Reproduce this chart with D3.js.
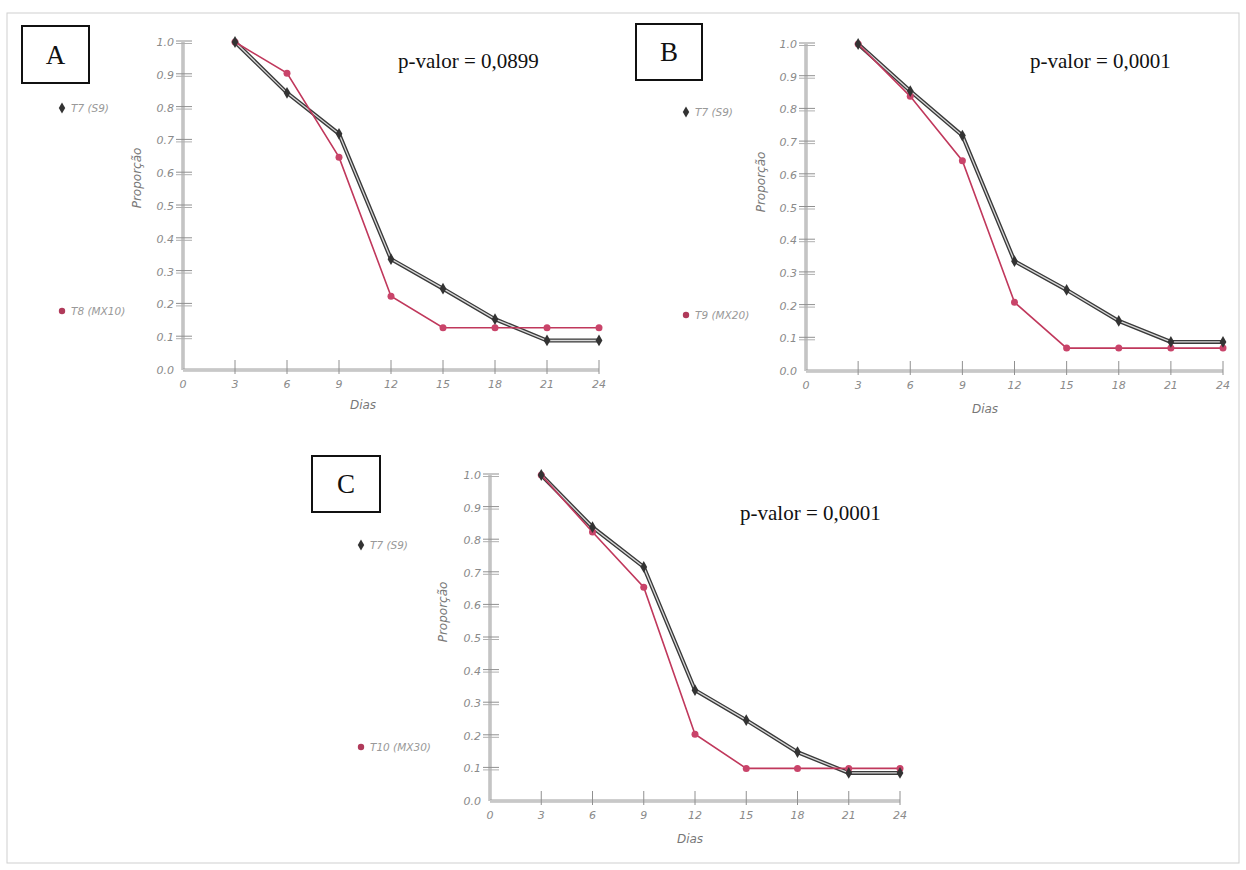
<!DOCTYPE html>
<html>
<head>
<meta charset="utf-8">
<script src="https://cdn.jsdelivr.net/npm/d3@7/dist/d3.min.js"></script>
<style>
  body { margin: 0; background: #fff; }
  svg { display: block; }
  .tick-label { font-family: "DejaVu Sans", sans-serif; font-style: italic; font-size: 11px; fill: #8a8a8a; }
  .axis-title { font-family: "DejaVu Sans", sans-serif; font-style: italic; font-size: 12px; fill: #777; }
  .legend-text { font-family: "DejaVu Sans", sans-serif; font-style: italic; font-size: 10.5px; fill: #999; }
  .pval { font-family: "Liberation Serif", "Times New Roman", serif; font-size: 21px; fill: #111; }
  .panel-letter { font-family: "Liberation Serif", "Times New Roman", serif; font-size: 27px; fill: #111; }
</style>
</head>
<body>
<svg id="chart" width="1246" height="870"></svg>
<script>
// shared x categories (days) and y ticks
var days = [3, 6, 9, 12, 15, 18, 21, 24];
var xTicks = [0, 3, 6, 9, 12, 15, 18, 21, 24];
var yTicks = [0, 0.1, 0.2, 0.3, 0.4, 0.5, 0.6, 0.7, 0.8, 0.9, 1.0];

// panel A
var controlA = [1.0, 0.845, 0.72, 0.338, 0.248, 0.155, 0.09, 0.09];
var treatA = [1.0, 0.905, 0.649, 0.225, 0.129, 0.129, 0.129, 0.129];
// panel B
var controlB = [1.0, 0.856, 0.72, 0.336, 0.248, 0.153, 0.089, 0.089];
var treatB = [1.0, 0.84, 0.643, 0.21, 0.07, 0.07, 0.07, 0.07];
// panel C
var controlC = [1.0, 0.84, 0.718, 0.34, 0.248, 0.15, 0.086, 0.086];
var treatC = [1.0, 0.825, 0.656, 0.205, 0.10, 0.10, 0.10, 0.10];

var panelLetters = ["A", "B", "C"];
var pValues = ["p-valor = 0,0899", "p-valor = 0,0001", "p-valor = 0,0001"];
var controlNames = ["T7 (S9)", "T7 (S9)", "T7 (S9)"];
var treatNames = ["T8 (MX10)", "T9 (MX20)", "T10 (MX30)"];

var svg = d3.select("svg");

// faint frame of the scanned page
svg.append("rect")
    .attr("x", 7).attr("y", 13)
    .attr("width", 1232).attr("height", 850)
    .style("fill", "none")
    .style("stroke", "#cfcfcf")
    .style("stroke-width", 1);

var panels = [
    { left: 183, top: 42, width: 416, height: 328,
      control: controlA, treat: treatA,
      box: [22, 26, 67, 57], pval: [398, 68],
      legend: [62, 108, 311], ytitle: [141, 178], xtitle: [363, 409] },
    { left: 806, top: 44, width: 417, height: 327,
      control: controlB, treat: treatB,
      box: [636, 24, 66, 56], pval: [1030, 68],
      legend: [686, 112, 315], ytitle: [765, 182], xtitle: [985, 413] },
    { left: 490, top: 475, width: 410, height: 326,
      control: controlC, treat: treatC,
      box: [312, 456, 68, 56], pval: [740, 520],
      legend: [361, 545, 747], ytitle: [447, 612], xtitle: [690, 843] }
];

function drawPanel(p, i) {
    var g = svg.append("g")
        .attr("transform", "translate(" + p.left + "," + p.top + ")");

    var xScale = d3.scaleLinear().domain([0, 24]).range([0, p.width]);
    var yScale = d3.scaleLinear().domain([0, 1]).range([p.height, 0]);

    // y axis: doubled gray spine
    g.append("line")
        .attr("x1", 0).attr("x2", 0)
        .attr("y1", yScale(0)).attr("y2", yScale(1))
        .style("stroke", "#a0a0a0").style("stroke-width", 3);
    g.append("line")
        .attr("x1", 0).attr("x2", 0)
        .attr("y1", yScale(0)).attr("y2", yScale(1))
        .style("stroke", "#e8e8e8").style("stroke-width", 1);
    // x axis
    g.append("line")
        .attr("x1", 0).attr("x2", xScale(24))
        .attr("y1", yScale(0)).attr("y2", yScale(0))
        .style("stroke", "#a0a0a0").style("stroke-width", 3);
    g.append("line")
        .attr("x1", 0).attr("x2", xScale(24))
        .attr("y1", yScale(0)).attr("y2", yScale(0))
        .style("stroke", "#f0f0f0").style("stroke-width", 1);

    // y ticks (double dash crossing the spine)
    var yt = g.selectAll("g.ytick")
        .data(yTicks.filter(function (d) { return d > 0; }))
        .enter().append("g")
        .attr("class", "ytick")
        .attr("transform", function (d) { return "translate(0," + yScale(d) + ")"; });
    yt.append("line")
        .attr("x1", -7).attr("x2", 9).attr("y1", -1).attr("y2", -1)
        .style("stroke", "#909090").style("stroke-width", 1);
    yt.append("line")
        .attr("x1", -7).attr("x2", 9).attr("y1", 1.5).attr("y2", 1.5)
        .style("stroke", "#b0b0b0").style("stroke-width", 1);
    g.selectAll("text.ylab")
        .data(yTicks)
        .enter().append("text")
        .attr("class", "tick-label")
        .attr("x", -9)
        .attr("y", function (d) { return yScale(d) + 4; })
        .attr("text-anchor", "end")
        .text(function (d) { return d3.format(".1f")(d); });

    // x ticks
    g.selectAll("line.xtick")
        .data(xTicks.filter(function (d) { return d > 0; }))
        .enter().append("line")
        .attr("class", "xtick")
        .attr("x1", function (d) { return xScale(d); })
        .attr("x2", function (d) { return xScale(d); })
        .attr("y1", yScale(0) - 10).attr("y2", yScale(0) + 4)
        .style("stroke", "#909090").style("stroke-width", 1);
    g.selectAll("text.xlab")
        .data(xTicks)
        .enter().append("text")
        .attr("class", "tick-label")
        .attr("x", function (d) { return xScale(d); })
        .attr("y", yScale(0) + 18)
        .attr("text-anchor", "middle")
        .text(function (d) { return d; });

    var line = d3.line()
        .x(function (d) { return xScale(d[0]); })
        .y(function (d) { return yScale(d[1]); });

    var ctrl = days.map(function (d, k) { return [d, p.control[k]]; });
    var trt = days.map(function (d, k) { return [d, p.treat[k]]; });

    // control series: outlined (double) dark line
    g.append("path")
        .attr("d", line(ctrl))
        .style("fill", "none").style("stroke", "#3a3a3a").style("stroke-width", 4);
    g.append("path")
        .attr("d", line(ctrl))
        .style("fill", "none").style("stroke", "#d8d8d8").style("stroke-width", 1.3);

    // treatment series: thin crimson line
    g.append("path")
        .attr("d", line(trt))
        .style("fill", "none").style("stroke", "#c0385c").style("stroke-width", 1.6);

    g.selectAll("circle.trt")
        .data(trt)
        .enter().append("circle")
        .attr("cx", function (d) { return xScale(d[0]); })
        .attr("cy", function (d) { return yScale(d[1]); })
        .attr("r", 3.5)
        .style("fill", "#c9446a");

    g.selectAll("path.ctrl")
        .data(ctrl)
        .enter().append("path")
        .attr("transform", function (d) { return "translate(" + xScale(d[0]) + "," + yScale(d[1]) + ")"; })
        .attr("d", d3.symbol().type(d3.symbolDiamond).size(40))
        .style("fill", "#333");

    // axis titles
    svg.append("text")
        .attr("class", "axis-title")
        .attr("transform", "translate(" + p.ytitle[0] + "," + p.ytitle[1] + ") rotate(-90)")
        .attr("text-anchor", "middle")
        .text("Proporção");
    svg.append("text")
        .attr("class", "axis-title")
        .attr("x", p.xtitle[0]).attr("y", p.xtitle[1])
        .attr("text-anchor", "middle")
        .text("Dias");

    // legend
    svg.append("path")
        .attr("transform", "translate(" + p.legend[0] + "," + p.legend[1] + ")")
        .attr("d", d3.symbol().type(d3.symbolDiamond).size(36))
        .style("fill", "#333");
    svg.append("text")
        .attr("class", "legend-text")
        .attr("x", p.legend[0] + 9).attr("y", p.legend[1] + 4)
        .text(controlNames[i]);
    svg.append("circle")
        .attr("cx", p.legend[0]).attr("cy", p.legend[2])
        .attr("r", 3.2)
        .style("fill", "#b03a5a");
    svg.append("text")
        .attr("class", "legend-text")
        .attr("x", p.legend[0] + 9).attr("y", p.legend[2] + 4)
        .text(treatNames[i]);

    // panel letter box
    svg.append("rect")
        .attr("x", p.box[0]).attr("y", p.box[1])
        .attr("width", p.box[2]).attr("height", p.box[3])
        .style("fill", "#fff").style("stroke", "#111").style("stroke-width", 2);
    svg.append("text")
        .attr("class", "panel-letter")
        .attr("x", p.box[0] + p.box[2] / 2)
        .attr("y", p.box[1] + p.box[3] / 2 + 9)
        .attr("text-anchor", "middle")
        .text(panelLetters[i]);

    // p-value note
    svg.append("text")
        .attr("class", "pval")
        .attr("x", p.pval[0]).attr("y", p.pval[1])
        .text(pValues[i]);
}

panels.forEach(drawPanel);
</script>
</body>
</html>
